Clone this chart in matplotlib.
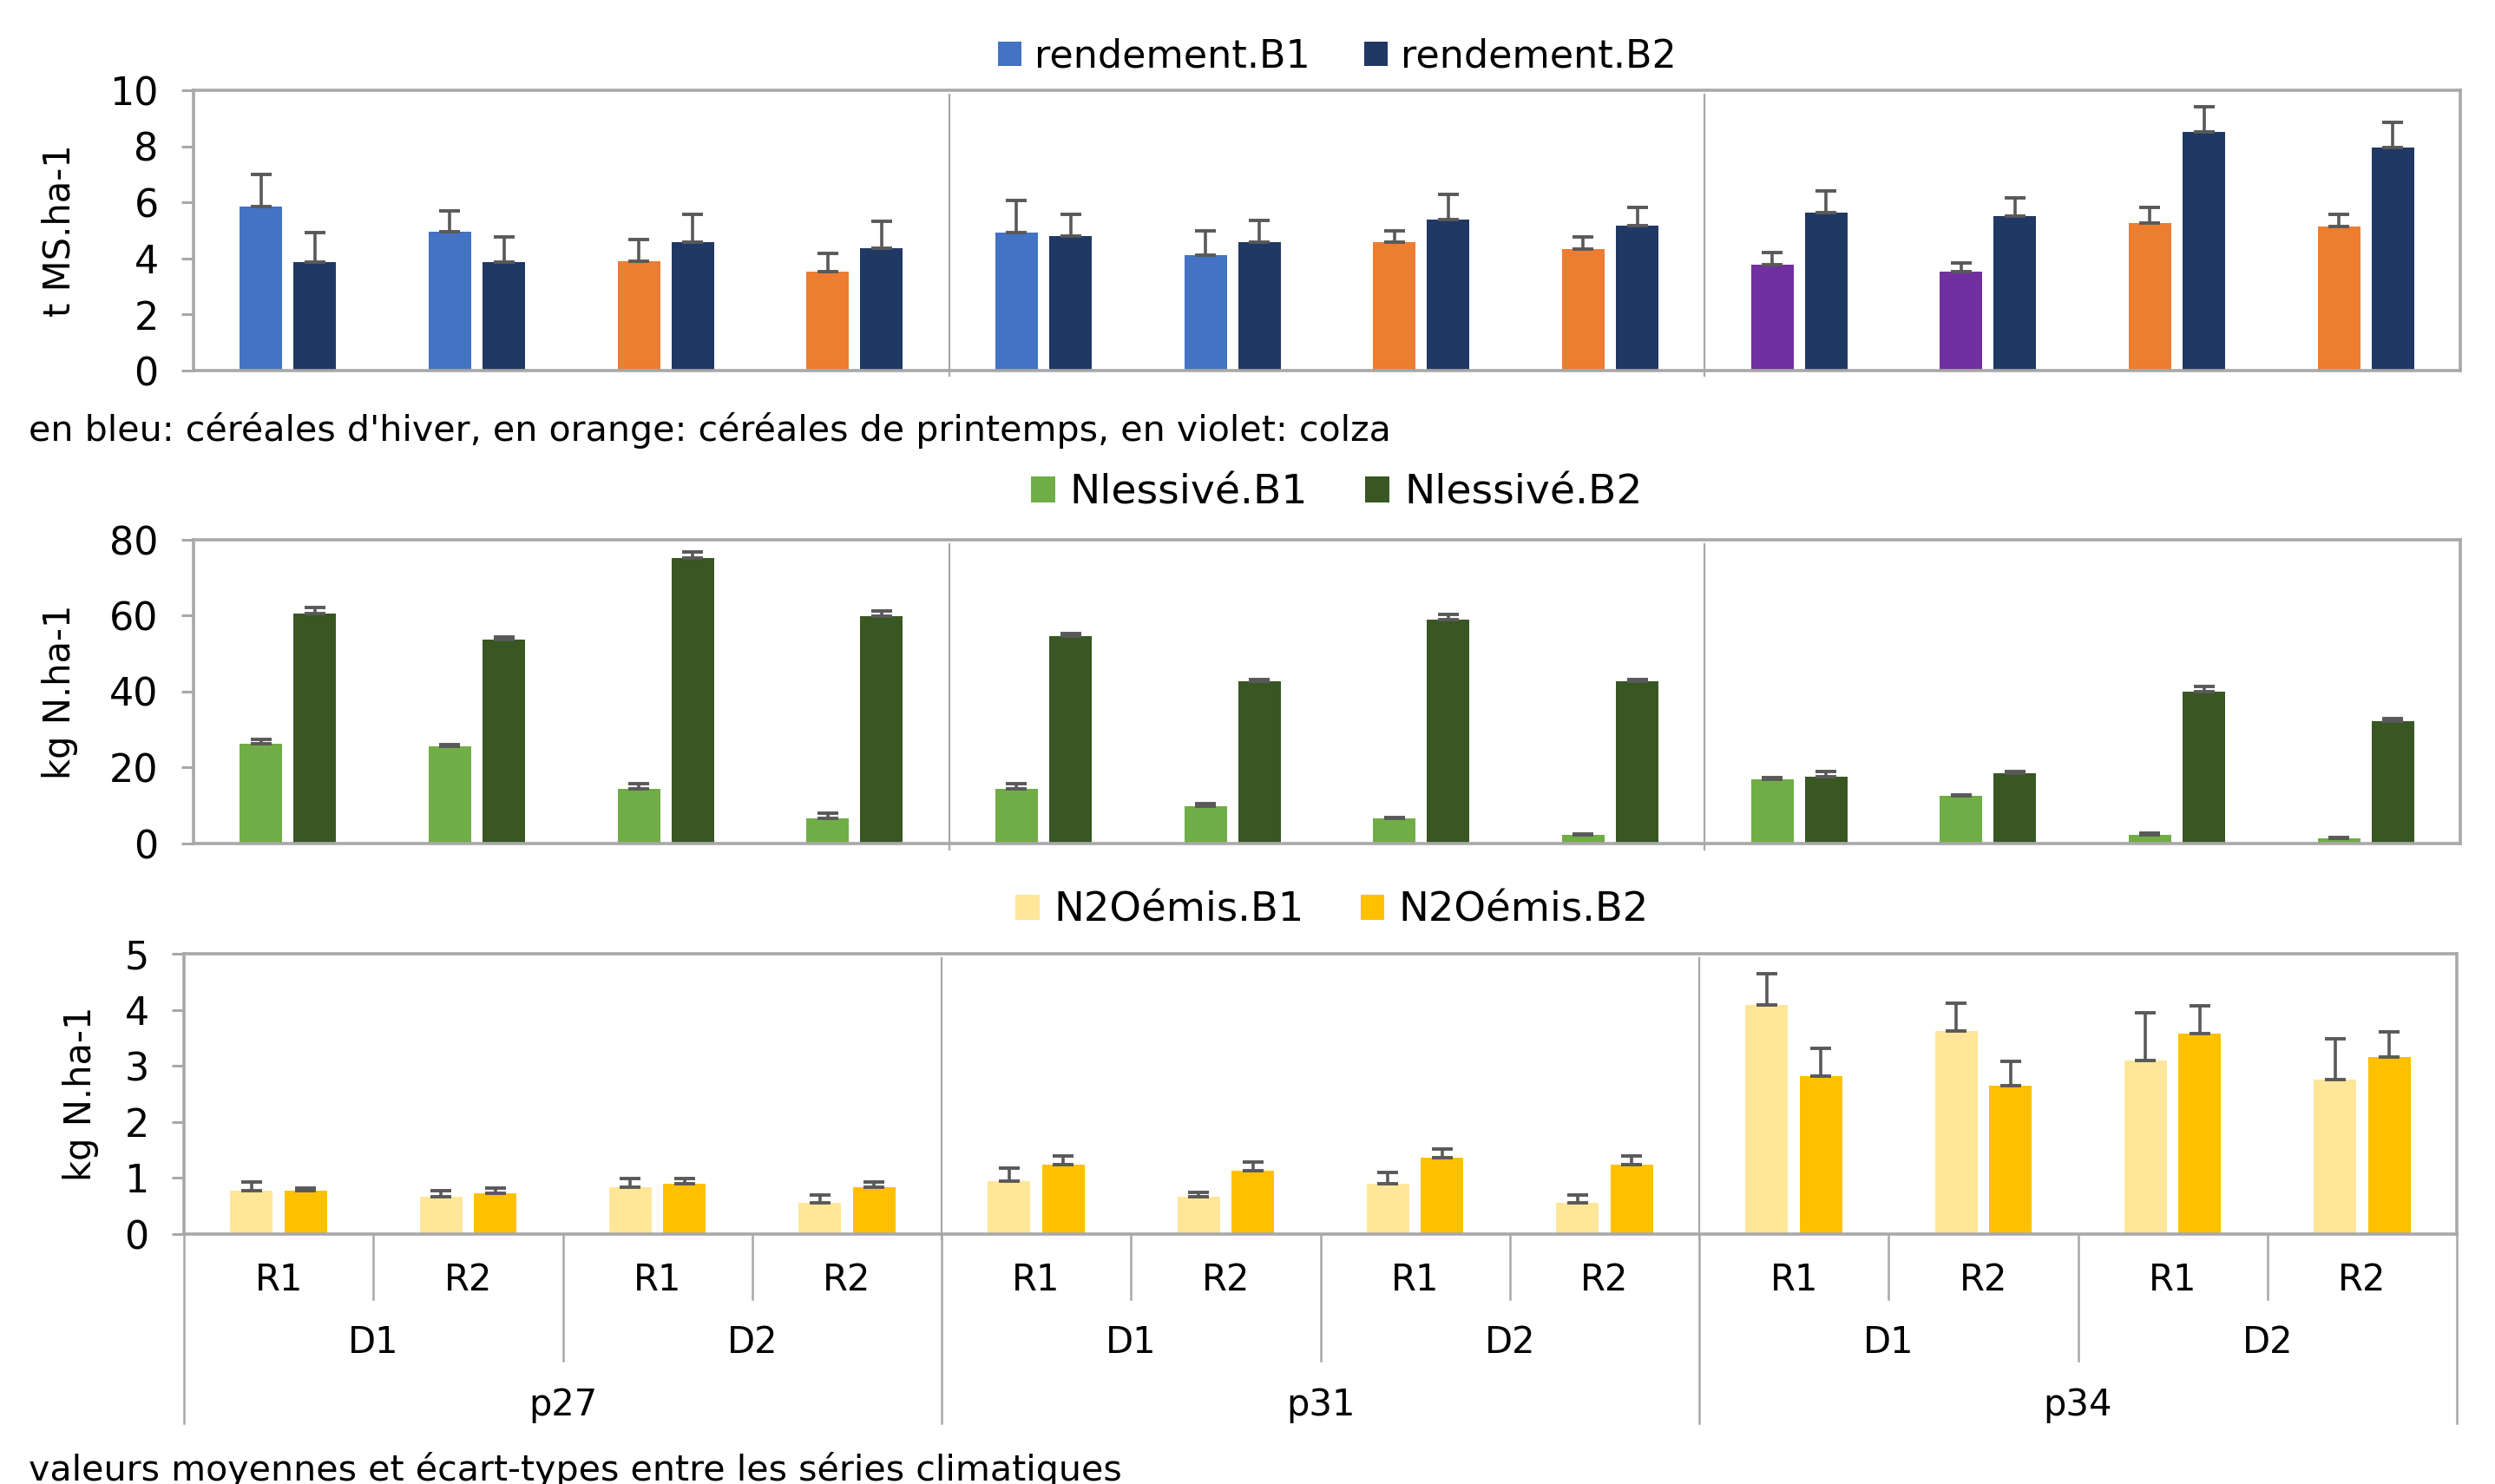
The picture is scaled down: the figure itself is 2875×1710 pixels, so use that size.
import numpy as np
import matplotlib
matplotlib.use("Agg")
import matplotlib.pyplot as plt
from matplotlib.patches import Patch
from matplotlib.transforms import blended_transform_factory

plt.rcParams['font.family'] = ['DejaVu Sans']

# Category hierarchy: site > dose > rotation
sites = ["p27", "p31", "p34"]
doses = ["D1", "D2"]
rotations = ["R1", "R2"]

# Order of the 12 bars: p27 D1R1, D1R2, D2R1, D2R2, then p31, then p34
crop_type = ["hiver", "hiver", "printemps", "printemps",
             "hiver", "hiver", "printemps", "printemps",
             "colza", "colza", "printemps", "printemps"]

rendement_b1 = [5.87, 4.95, 3.90, 3.55, 4.94, 4.12, 4.60, 4.35, 3.77, 3.55, 5.28, 5.16]
rendement_b1_sd = [1.13, 0.76, 0.77, 0.65, 1.14, 0.88, 0.40, 0.44, 0.44, 0.31, 0.55, 0.42]
rendement_b2 = [3.89, 3.89, 4.58, 4.36, 4.82, 4.59, 5.40, 5.17, 5.63, 5.52, 8.54, 7.96]
rendement_b2_sd = [1.03, 0.90, 0.99, 0.98, 0.77, 0.77, 0.89, 0.65, 0.79, 0.65, 0.90, 0.91]

nlessive_b1 = [26.2, 25.5, 14.3, 6.6, 14.3, 9.9, 6.6, 2.3, 17.0, 12.6, 2.2, 1.4]
nlessive_b1_sd = [1.2, 0.5, 1.4, 1.4, 1.4, 0.6, 0.3, 0.3, 0.3, 0.3, 0.5, 0.3]
nlessive_b2 = [60.6, 53.8, 75.3, 59.8, 54.7, 42.7, 59.0, 42.7, 17.6, 18.5, 40.0, 32.3]
nlessive_b2_sd = [1.5, 0.7, 1.4, 1.4, 0.6, 0.5, 1.4, 0.5, 1.4, 0.5, 1.4, 0.6]

n2o_b1 = [0.78, 0.67, 0.84, 0.55, 0.95, 0.66, 0.90, 0.55, 4.09, 3.62, 3.10, 2.76]
n2o_b1_sd = [0.15, 0.10, 0.15, 0.15, 0.22, 0.09, 0.20, 0.15, 0.55, 0.50, 0.85, 0.73]
n2o_b2 = [0.78, 0.72, 0.90, 0.84, 1.24, 1.13, 1.36, 1.24, 2.82, 2.64, 3.57, 3.16]
n2o_b2_sd = [0.04, 0.10, 0.09, 0.09, 0.16, 0.15, 0.16, 0.16, 0.49, 0.44, 0.50, 0.44]

crop_colors = {"hiver": "#4472C4", "printemps": "#ED7D31", "colza": "#7030A0"}
NAVY = "#203864"
GREEN_L, GREEN_D = "#70AD47", "#385723"
YEL_L, YEL_D = "#FFE699", "#FFC000"
GRAY = "#A8A8A8"
ERR = "#595959"

W, H = 2875, 1710
fig = plt.figure(figsize=(W / 100, H / 100), dpi=100)
fig.patch.set_facecolor("white")

BAR_W = 0.225
OFF = 0.143
FS = 30        # category labels and axis titles
FS_TICK = 32   # numeric tick labels
FS_NOTE = 29.6 # free notes


def rect(left, top, right, bottom):
    return [left / W, 1 - bottom / H, (right - left) / W, (bottom - top) / H]


def panel(box, b1, b1sd, b2, b2sd, c1, c2, ymax, ystep, ylabel, ylabel_x,
          labels, leg_center, leg_colors, leg_fs):
    ax = fig.add_axes(rect(*box))
    x = np.arange(len(b1))
    ax.bar(x - OFF, b1, width=BAR_W, color=c1, zorder=2)
    ax.bar(x + OFF, b2, width=BAR_W, color=c2, zorder=2)
    zeros = np.zeros(len(b1))
    for xs, v, sd in ((x - OFF, b1, b1sd), (x + OFF, b2, b2sd)):
        ax.errorbar(xs, v, yerr=[zeros, sd], fmt="none", ecolor=ERR,
                    elinewidth=2.6, capsize=8.5, capthick=2.8, zorder=3)
    ax.set_xlim(-0.5, len(b1) - 0.5)
    ax.set_ylim(0, ymax)
    ticks = np.arange(0, ymax + ystep / 2, ystep)
    ax.set_yticks(ticks)
    ax.set_yticklabels([f"{v:g}" for v in ticks])
    ax.set_xticks([])
    for s in ax.spines.values():
        s.set_color(GRAY)
        s.set_linewidth(2.6)
    ax.tick_params(axis="y", direction="out", length=10, width=2.2,
                   color=GRAY, labelsize=FS_TICK, pad=19)
    ax.set_ylabel(ylabel, fontsize=FS, va="center")
    ax.yaxis.set_label_coords(ylabel_x, 0.5)
    trans = blended_transform_factory(ax.transData, ax.transAxes)
    for xb in (3.5, 7.5):
        ax.plot([xb, xb], [-0.02, 0.985], transform=trans, color=GRAY,
                lw=1.6, clip_on=False, zorder=1)
    handles = [Patch(facecolor=c) for c in leg_colors]
    fig.legend(handles, labels, loc="center",
               bbox_to_anchor=(leg_center[0] / W, 1 - leg_center[1] / H),
               ncol=2, frameon=False, fontsize=leg_fs, handlelength=0.6,
               handleheight=0.58, handletextpad=0.35, columnspacing=1.4,
               borderpad=0)
    return ax


b1_colors = [crop_colors[c] for c in crop_type]
panel((223, 104.5, 2835, 427), rendement_b1, rendement_b1_sd,
      rendement_b2, rendement_b2_sd, b1_colors, NAVY, 10, 2,
      "t MS.ha-1", -0.059, ["rendement.B1", "rendement.B2"], (1541, 65),
      [crop_colors["hiver"], NAVY], 32)

panel((223, 622, 2835, 972), nlessive_b1, nlessive_b1_sd,
      nlessive_b2, nlessive_b2_sd, GREEN_L, GREEN_D, 80, 20,
      "kg N.ha-1", -0.059, ["Nlessivé.B1", "Nlessivé.B2"], (1540, 568),
      [GREEN_L, GREEN_D], 34)

ax3 = panel((212, 1099, 2831, 1422), n2o_b1, n2o_b1_sd,
            n2o_b2, n2o_b2_sd, YEL_L, YEL_D, 5, 1,
            "kg N.ha-1", -0.0455, ["N2Oémis.B1", "N2Oémis.B2"], (1535, 1049),
            [YEL_L, YEL_D], 33.5)

# Multi-level category axis below the bottom panel
trans = blended_transform_factory(ax3.transData, ax3.transAxes)
ax_h = 1422 - 1099
y_r = -(1497 - 1422) / ax_h
y_d = -(1568 - 1422) / ax_h
y_p = -(1640 - 1422) / ax_h
n = len(n2o_b1)
for k in range(n + 1):
    xb = k - 0.5
    if k % 4 == 0:
        yb = y_p
    elif k % 2 == 0:
        yb = y_d
    else:
        yb = y_r
    ax3.plot([xb, xb], [0, yb], transform=trans, color=GRAY, lw=1.8,
             clip_on=False)

for i in range(n):
    ax3.text(i, -(1475 - 1422) / ax_h, rotations[i % 2], transform=trans,
             ha="center", va="center", fontsize=FS)
for j in range(n // 2):
    ax3.text(2 * j + 0.5, -(1547 - 1422) / ax_h, doses[j % 2], transform=trans,
             ha="center", va="center", fontsize=FS)
for g, site in enumerate(sites):
    ax3.text(4 * g + 1.5, -(1619 - 1422) / ax_h, site, transform=trans,
             ha="center", va="center", fontsize=FS)

fig.text(33 / W, 1 - 508 / H,
         "en bleu: céréales d'hiver, en orange: céréales de printemps, en violet: colza",
         fontsize=FS_NOTE, ha="left", va="baseline")
fig.text(33 / W, 1 - 1706 / H,
         "valeurs moyennes et écart-types entre les séries climatiques",
         fontsize=FS_NOTE, ha="left", va="baseline")

fig.savefig("out.png", dpi=100, facecolor="white")
